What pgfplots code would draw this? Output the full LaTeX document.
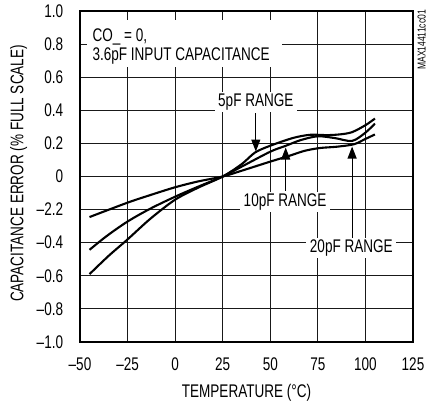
\documentclass[border=0pt]{standalone}
\usepackage{fontspec}
\setmainfont{Liberation Sans}[FakeStretch=0.74]
\usepackage{pgfplots}
\pgfplotsset{compat=1.18}
\usetikzlibrary{arrows.meta}
\newcommand\lf{\fontsize{18.3bp}{20bp}\selectfont}
\begin{document}
\begin{tikzpicture}
\begin{axis}[
 scale only axis, width=333bp, height=331bp,
 xmin=-50,xmax=125,ymin=-1,ymax=1,
 xtick={-50,-25,0,25,50,75,100,125},
 ytick={-1,-0.8,-0.6,-0.4,-0.2,0,0.2,0.4,0.6,0.8,1},
 xticklabels={–50,–25,0,25,50,75,100,125},
 yticklabels={–1.0,–0.8,–0.6,–0.4,–2.2,0,0.2,0.4,0.6,0.8,1.0},
 grid=major,
 major grid style={line width=0.9bp, draw=black!90},
 major tick length=0pt,
 axis line style={line width=2.8bp},
 xticklabel style={font=\lf, anchor=base, yshift=-28bp},
 yticklabel style={font=\lf, anchor=east, inner xsep=0pt, xshift=-16.7bp},
 clip=false,
]
% steepest curve
\addplot[smooth, line width=2.1bp, black] coordinates {
(-45,-0.590) (-35,-0.48) (-25,-0.38) (-13,-0.255) (0,-0.14) (12,-0.068) (25,0)
(35,0.075) (42,0.145) (50,0.186) (62,0.233) (71,0.252) (80,0.250) (87,0.255)
(93,0.268) (100,0.31) (105,0.35)};
% middle curve
\addplot[smooth, line width=2.1bp, black] coordinates {
(-45,-0.443) (-36,-0.36) (-25,-0.272) (-13,-0.194) (0,-0.122) (12,-0.062) (25,0)
(35,0.06) (50,0.150) (58,0.185) (66,0.22) (75,0.243) (84,0.232) (93,0.215)
(100,0.265) (105,0.32)};
% shallow curve
\addplot[smooth, line width=2.1bp, black] coordinates {
(-45,-0.245) (-25,-0.158) (-13,-0.112) (0,-0.065) (12,-0.03) (25,0) (35,0.035)
(50,0.09) (60,0.125) (68,0.155) (76,0.172) (85,0.18) (94,0.195) (100,0.227) (105,0.254)};
\end{axis}
% annotations
\begin{axis}[
 scale only axis, width=333bp, height=331bp,
 xmin=-50,xmax=125,ymin=-1,ymax=1, hide axis, clip=false]
\fill[white] (axis cs:-46.5,0.664) rectangle (axis cs:55.9,0.946);
\node[anchor=base west, inner sep=0pt, font=\lf] at (axis cs:-43.5,0.815) {CO\_ = 0,};
\node[anchor=base west, inner sep=0pt, font=\lf] at (axis cs:-43.5,0.698) {3.6pF INPUT CAPACITANCE};
\node[fill=white, inner xsep=3.5bp, inner ysep=2bp, anchor=base, font=\lf] at (axis cs:42.4,0.422) {5pF RANGE};
\node[fill=white, inner xsep=3.5bp, inner ysep=2bp, anchor=base, font=\lf] at (axis cs:57.8,-0.181) {10pF RANGE};
\node[fill=white, inner xsep=3.5bp, inner ysep=2bp, anchor=base, font=\lf] at (axis cs:92.6,-0.459) {20pF RANGE};
\draw[line width=1.1bp, -{Triangle[length=12bp,width=9bp]}] (axis cs:42.4,0.383) -- (axis cs:42.4,0.151);
\draw[line width=1.1bp, -{Triangle[length=12bp,width=9bp]}] (axis cs:58.1,-0.085) -- (axis cs:58.1,0.175);
\draw[line width=1.1bp, -{Triangle[length=12bp,width=9bp]}] (axis cs:93,-0.369) -- (axis cs:93,0.181);
\end{axis}
\node[anchor=base, font=\lf] at ([yshift=-55.3bp]current axis.south) {TEMPERATURE (°C)};
\node[rotate=90, anchor=base, font=\lf] at ([xshift=-56.7bp, yshift=3bp]current axis.west) {CAPACITANCE ERROR (\% FULL SCALE)};
\node[rotate=90, anchor=east, inner sep=0pt, font=\fontsize{11.5bp}{12bp}\selectfont] at ([xshift=8.7bp, yshift=1bp]current axis.north east) {MAX14411cc01};
\pgfresetboundingbox
\path ([shift={(-80bp,-62bp)}]current axis.south west) rectangle ([shift={(14bp,11bp)}]current axis.north east);
\end{tikzpicture}
\end{document}
